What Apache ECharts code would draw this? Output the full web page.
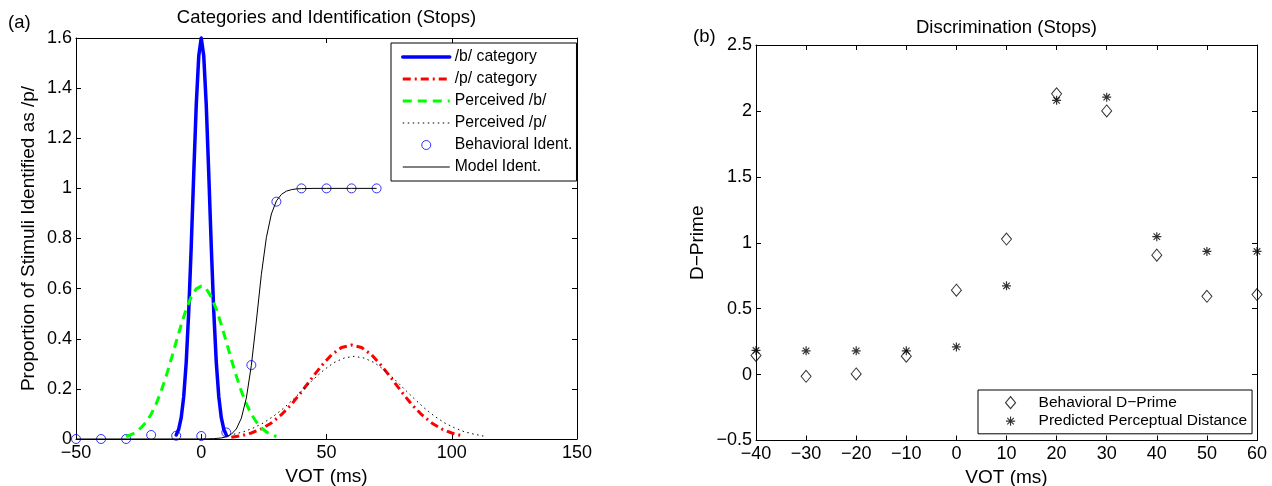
<!DOCTYPE html>
<html><head><meta charset="utf-8">
<script src="https://cdn.jsdelivr.net/npm/echarts@6/dist/echarts.min.js"></script>
<style>html,body{margin:0;padding:0;background:#fff}#c{width:1272px;height:486px}</style>
</head><body><div id="c"></div>
<script>
// ---------- Panel (a): Categories and Identification (Stops) ----------
const bCatX = [-10,-9,-8,-7,-6,-5,-4,-3,-2,-1,0,1,2,3,4,5,6,7,8,9,10];
const bCatY = [0.016,0.039,0.085,0.169,0.306,0.508,0.768,1.058,1.332,1.528,1.6,1.528,1.332,1.058,0.768,0.508,0.306,0.169,0.085,0.039,0.016];

const pCatX = [12,16,20,24,28,32,36,40,44,48,52,56,60,64,68,72,76,80,84,88,92,96,100,104];
const pCatY = [0.007,0.013,0.024,0.040,0.064,0.097,0.138,0.188,0.241,0.292,0.336,0.365,0.375,0.365,0.336,0.292,0.241,0.188,0.138,0.097,0.064,0.040,0.024,0.013];

const percBX = [-30,-28,-26,-24,-22,-20,-18,-16,-14,-12,-10,-8,-6,-4,-2,0,2,4,6,8,10,12,14,16,18,20,22,24,26,28,30];
const percBY = [0.010,0.017,0.028,0.045,0.068,0.099,0.140,0.191,0.251,0.318,0.388,0.456,0.518,0.567,0.599,0.610,0.599,0.567,0.518,0.456,0.388,0.318,0.251,0.191,0.140,0.099,0.068,0.045,0.028,0.017,0.010];

const percPX = [13,17,21,25,29,33,37,41,45,49,53,57,61,65,69,73,77,81,85,89,93,97,101,105,109,113];
const percPY = [0.019,0.029,0.045,0.065,0.092,0.124,0.161,0.200,0.240,0.276,0.305,0.323,0.330,0.323,0.305,0.276,0.240,0.200,0.161,0.124,0.092,0.065,0.045,0.029,0.019,0.011];

const identX = [-50,-40,-30,-20,-10,0,10,20,30,40,50,60,70];
const identY = [0,0,0,0.016,0.013,0.012,0.026,0.295,0.947,1,1,1,1];

const modelX = [-50,0,5,8,10,12,14,16,18,20,22,24,26,28,30,32,34,36,38,40,45,50,60,70];
const modelY = [0,0.0002,0.0014,0.004,0.009,0.019,0.040,0.083,0.163,0.294,0.471,0.657,0.804,0.898,0.950,0.976,0.989,0.995,0.998,0.999,1,1,1,1];

// ---------- Panel (b): Discrimination (Stops) ----------
const vot = [-40,-30,-20,-10,0,10,20,30,40,50,60];
const behavDPrime = [0.145,-0.013,0.005,0.14,0.64,1.028,2.13,2.0,0.906,0.594,0.607];
const predDist = [0.183,0.18,0.18,0.18,0.21,0.673,2.08,2.104,1.046,0.934,0.934];

const FONT = 'Liberation Sans';
const zip = (xs, ys) => xs.map((x, i) => [x, ys[i]]);
const fmt = v => String(v).replace('-', '\u2212');
const DIAMOND = 'path://M0,-6L5,0L0,6L-5,0Z';
const STAR = 'path://M0,-5L0,5M-5,0L5,0M-3.6,-3.6L3.6,3.6M-3.6,3.6L3.6,-3.6';
// legend icons padded to the full 46x13 icon box so the icon stays centred
const DIAMOND_LEG = 'path://M-23,-6.5M23,6.5M0,-6L5,0L0,6L-5,0Z';
const STAR_LEG = 'path://M-23,-6.5M23,6.5M0,-4.6L0,4.6M-4.6,0L4.6,0M-3.3,-3.3L3.3,3.3M-3.3,3.3L3.3,-3.3';

function xAx(g, min, max, step, name, gap, top) {
  return {
    type: 'value', gridIndex: g, position: top ? 'top' : 'bottom', min, max, interval: step,
    name: top ? '' : name, nameLocation: 'middle', nameGap: gap,
    nameTextStyle: { fontFamily: FONT, fontSize: 19, color: '#000' },
    axisLine: { show: true, onZero: false, lineStyle: { color: '#000', width: 1 } },
    axisTick: { show: true, inside: true, length: 5, lineStyle: { color: '#000' } },
    axisLabel: { show: !top, formatter: fmt, fontFamily: FONT, fontSize: 18, color: '#000', margin: 5 },
    splitLine: { show: false }
  };
}
function yAx(g, min, max, step, name, gap, right) {
  return {
    type: 'value', gridIndex: g, position: right ? 'right' : 'left', min, max, interval: step,
    name: right ? '' : name, nameLocation: 'middle', nameGap: gap,
    nameTextStyle: { fontFamily: FONT, fontSize: 19, color: '#000' },
    axisLine: { show: true, onZero: false, lineStyle: { color: '#000', width: 1 } },
    axisTick: { show: true, inside: true, length: 5, lineStyle: { color: '#000' } },
    axisLabel: { show: !right, formatter: fmt, fontFamily: FONT, fontSize: 18, color: '#000', margin: 4 },
    splitLine: { show: false }
  };
}
const titleText = { fontFamily: FONT, fontSize: 18.5, fontWeight: 'normal', color: '#000' };

const chart = echarts.init(document.getElementById('c'), null, { renderer: 'canvas' });
chart.setOption({
  animation: false,
  backgroundColor: '#fff',
  textStyle: { fontFamily: FONT },
  title: [
    { text: 'Categories and Identification (Stops)', left: 326.5, top: 8.5, textAlign: 'center', padding: 0, textStyle: titleText },
    { text: 'Discrimination (Stops)', left: 1006.4, top: 18, textAlign: 'center', padding: 0, textStyle: titleText },
    { text: '(a)', left: 8, top: 13.5, padding: 0, textStyle: titleText },
    { text: '(b)', left: 693, top: 27, padding: 0, textStyle: titleText }
  ],
  grid: [
    { left: 76, right: 695, top: 38, bottom: 47, containLabel: false, outerBoundsMode: 'none' },
    { left: 756, right: 15, top: 45, bottom: 45.5, containLabel: false, outerBoundsMode: 'none' }
  ],
  xAxis: [
    xAx(0, -50, 150, 50, 'VOT (ms)', 27, false),
    xAx(0, -50, 150, 50, '', 0, true),
    xAx(1, -40, 60, 10, 'VOT (ms)', 25.5, false),
    xAx(1, -40, 60, 10, '', 0, true)
  ],
  yAxis: [
    yAx(0, 0, 1.6, 0.2, 'Proportion of Stimuli Identified as /p/', 38, false),
    yAx(0, 0, 1.6, 0.2, '', 0, true),
    yAx(1, -0.5, 2.5, 0.5, 'D\u2212Prime', 49, false),
    yAx(1, -0.5, 2.5, 0.5, '', 0, true)
  ],
  legend: [
    {
      left: 391, top: 43, orient: 'vertical', selectedMode: false,
      padding: [3, 4, 3, 10], itemGap: 0, itemWidth: 47, itemHeight: 9,
      borderColor: '#000', borderWidth: 1, backgroundColor: '#fff',
      textStyle: { fontFamily: FONT, fontSize: 15.7, color: '#000', lineHeight: 22 },
      lineStyle: { width: 'inherit', type: 'inherit' },
      itemStyle: { borderWidth: 1 },
      data: [
        { name: '/b/ category', itemStyle: { opacity: 0 } },
        { name: '/p/ category', itemStyle: { opacity: 0 } },
        { name: 'Perceived /b/', itemStyle: { opacity: 0 } },
        { name: 'Perceived /p/', itemStyle: { opacity: 0 } },
        { name: 'Behavioral Ident.' },
        { name: 'Model Ident.', itemStyle: { opacity: 0 } }
      ]
    },
    {
      left: 978, top: 390, orient: 'vertical', selectedMode: false,
      padding: [3.5, 5, 3.5, 9], itemGap: 0, itemWidth: 46, itemHeight: 13,
      borderColor: '#000', borderWidth: 1, backgroundColor: '#fff',
      textStyle: { fontFamily: FONT, fontSize: 15.5, color: '#000', lineHeight: 18.4 },
      itemStyle: { borderWidth: 1.1 },
      data: [
        { name: 'Behavioral D\u2212Prime', icon: DIAMOND_LEG },
        { name: 'Predicted Perceptual Distance', icon: STAR_LEG }
      ]
    }
  ],
  series: [
    { name: '/b/ category', type: 'line', xAxisIndex: 0, yAxisIndex: 0, data: zip(bCatX, bCatY), symbol: 'none', clip: false,
      lineStyle: { color: '#0000ff', width: 3.5, cap: 'round', join: 'round' }, itemStyle: { color: '#0000ff' } },
    { name: '/p/ category', type: 'line', xAxisIndex: 0, yAxisIndex: 0, data: zip(pCatX, pCatY), symbol: 'none', clip: false,
      lineStyle: { color: '#ff0000', width: 3, type: [8, 4, 2, 4] }, itemStyle: { color: '#ff0000' } },
    { name: 'Perceived /b/', type: 'line', xAxisIndex: 0, yAxisIndex: 0, data: zip(percBX, percBY), symbol: 'none', clip: false,
      lineStyle: { color: '#00ff00', width: 3, type: [9, 6] }, itemStyle: { color: '#00ff00' } },
    { name: 'Perceived /p/', type: 'line', xAxisIndex: 0, yAxisIndex: 0, data: zip(percPX, percPY), symbol: 'none', clip: false,
      lineStyle: { color: '#000', width: 1, type: [1.5, 3.5] }, itemStyle: { color: '#000' } },
    { name: 'Behavioral Ident.', type: 'scatter', xAxisIndex: 0, yAxisIndex: 0, data: zip(identX, identY), clip: false,
      symbol: 'circle', symbolSize: 9, itemStyle: { color: 'rgba(0,0,0,0)', borderColor: '#0000ff', borderWidth: 1 } },
    { name: 'Model Ident.', type: 'line', xAxisIndex: 0, yAxisIndex: 0, data: zip(modelX, modelY), symbol: 'none', clip: false,
      lineStyle: { color: '#000', width: 1 }, itemStyle: { color: '#000' } },
    { name: 'Behavioral D\u2212Prime', type: 'scatter', xAxisIndex: 2, yAxisIndex: 2, data: zip(vot, behavDPrime), clip: false,
      symbol: DIAMOND, symbolSize: [10, 12], itemStyle: { color: 'rgba(0,0,0,0)', borderColor: '#000', borderWidth: 1 } },
    { name: 'Predicted Perceptual Distance', type: 'scatter', xAxisIndex: 2, yAxisIndex: 2, data: zip(vot, predDist), clip: false,
      symbol: STAR, symbolSize: 9, itemStyle: { color: 'rgba(0,0,0,0)', borderColor: '#000', borderWidth: 1.2 } }
  ]
});
</script>
</body></html>
